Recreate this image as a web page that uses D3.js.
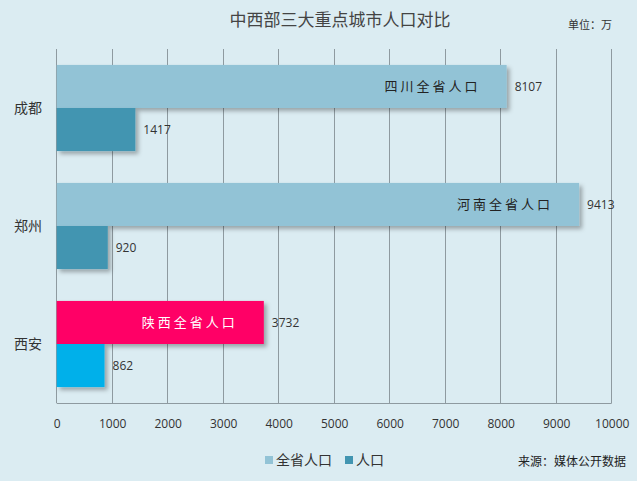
<!DOCTYPE html>
<html><head><meta charset="utf-8">
<script src="https://cdn.jsdelivr.net/npm/d3@7"></script>
<style>html,body{margin:0;padding:0;background:#fff;}svg{display:block;}</style>
</head><body>
<script>
const cities = ["成都", "郑州", "西安"];
const provinceNames = ["四川全省人口", "河南全省人口", "陕西全省人口"];
const provinceValues = [8107, 9413, 3732];
const cityValues = [1417, 920, 862];
const xTicks = [0,1000,2000,3000,4000,5000,6000,7000,8000,9000,10000];
const seriesNames = ["全省人口", "人口"];
const provinceColors = ["#92c3d6", "#92c3d6", "#ff0066"];
const cityColors = ["#4295b1", "#4295b1", "#00b0ea"];

const W = 640, H = 484;
const svg = d3.select("body").append("svg").attr("width", W).attr("height", H);
const defs = svg.append("defs");
const f = defs.append("filter").attr("id","sh").attr("x","-10%").attr("y","-20%").attr("width","130%").attr("height","160%");
f.append("feDropShadow").attr("dx",3).attr("dy",3).attr("stdDeviation",2).attr("flood-color","#000").attr("flood-opacity",0.3);

svg.append("rect").attr("x",0).attr("y",0).attr("width",637).attr("height",481).attr("fill","#dbecf2");

const x = d3.scaleLinear().domain([0,10000]).range([56.7,611.7]);
const y = d3.scaleBand().domain(cities).range([49,403]).paddingInner(0.27).paddingOuter(0.135);
const sub = d3.scaleBand().domain(seriesNames).range([0,y.bandwidth()]);

// gridlines
svg.append("g").selectAll("line").data(xTicks).join("line")
  .attr("x1",d=>x(d)).attr("x2",d=>x(d)).attr("y1",49).attr("y2",403)
  .attr("stroke","#8e9aa0").attr("stroke-width",1).attr("shape-rendering","crispEdges");
svg.append("line").attr("x1",x(0)).attr("x2",x(10000)).attr("y1",403.5).attr("y2",403.5)
  .attr("stroke","#8e9aa0").attr("stroke-width",1);

// axis labels
const ax = svg.append("g").attr("transform","translate(0,403)")
  .call(d3.axisBottom(x).tickValues(xTicks).tickFormat(d3.format("d")).tickSize(0).tickPadding(16));
ax.select(".domain").remove();
ax.selectAll("text").attr("font-family","'Open Sans', 'Noto Sans', sans-serif").attr("font-size",12).attr("fill","#333");

const g = svg.append("g").selectAll("g").data(cities).join("g")
  .attr("transform",d=>`translate(0,${y(d)})`);

g.append("rect").attr("x",x(0)).attr("y",sub("全省人口"))
  .attr("width",(d,i)=>x(provinceValues[i])-x(0)).attr("height",sub.bandwidth())
  .attr("fill",(d,i)=>provinceColors[i]).attr("filter","url(#sh)");
g.append("rect").attr("x",x(0)).attr("y",sub("人口"))
  .attr("width",(d,i)=>x(cityValues[i])-x(0)).attr("height",sub.bandwidth())
  .attr("fill",(d,i)=>cityColors[i]).attr("filter","url(#sh)");

// value labels
g.append("text").attr("x",(d,i)=>x(provinceValues[i])+8).attr("y",sub("全省人口")+sub.bandwidth()/2)
  .attr("dy","0.35em").text((d,i)=>provinceValues[i])
  .attr("font-family","'Open Sans', 'Noto Sans', sans-serif").attr("font-size",12).attr("fill","#333");
g.append("text").attr("x",(d,i)=>x(cityValues[i])+8).attr("y",sub("人口")+sub.bandwidth()/2)
  .attr("dy","0.35em").text((d,i)=>cityValues[i])
  .attr("font-family","'Open Sans', 'Noto Sans', sans-serif").attr("font-size",12).attr("fill","#333");

// inside labels
g.append("text").attr("x",(d,i)=>x(provinceValues[i])-26).attr("y",sub("全省人口")+sub.bandwidth()/2)
  .attr("dy","0.35em").attr("text-anchor","end").text((d,i)=>provinceNames[i])
  .attr("font-family","'Noto Sans CJK SC', sans-serif").attr("font-size",13).attr("letter-spacing",3)
  .attr("fill",(d,i)=>i===2?"#fff":"#222");

// category labels
svg.append("g").selectAll("text").data(cities).join("text")
  .attr("x",28).attr("y",d=>y(d)+y.bandwidth()/2).attr("dy","0.35em").attr("text-anchor","middle")
  .text(d=>d).attr("font-family","'Noto Sans CJK SC', sans-serif").attr("font-size",14).attr("fill","#333");

// title
svg.append("text").attr("x",340).attr("y",20).attr("dy","0.35em").attr("text-anchor","middle")
  .text("中西部三大重点城市人口对比").attr("font-family","'Noto Sans CJK SC', sans-serif")
  .attr("font-size",17).attr("fill","#444");
svg.append("text").attr("x",590).attr("y",25).attr("dy","0.35em").attr("text-anchor","middle")
  .text("单位：万").attr("font-family","'Noto Sans CJK SC', sans-serif").attr("font-size",11).attr("fill","#333");

// legend
const legColors = ["#92c3d6", "#4295b1"];
const legX = [265, 345];
const lg = svg.append("g").selectAll("g").data(seriesNames).join("g")
  .attr("transform",(d,i)=>`translate(${legX[i]},460)`);
lg.append("rect").attr("x",0).attr("y",-4).attr("width",8).attr("height",8).attr("fill",(d,i)=>legColors[i]);
lg.append("text").attr("x",11).attr("y",0).attr("dy","0.35em").text(d=>d)
  .attr("font-family","'Noto Sans CJK SC', sans-serif").attr("font-size",14).attr("fill","#333");

svg.append("text").attr("x",572).attr("y",462).attr("dy","0.35em").attr("text-anchor","middle")
  .text("来源：媒体公开数据").attr("font-family","'Noto Sans CJK SC', sans-serif").attr("font-size",12).attr("fill","#222");
</script>
</body></html>
